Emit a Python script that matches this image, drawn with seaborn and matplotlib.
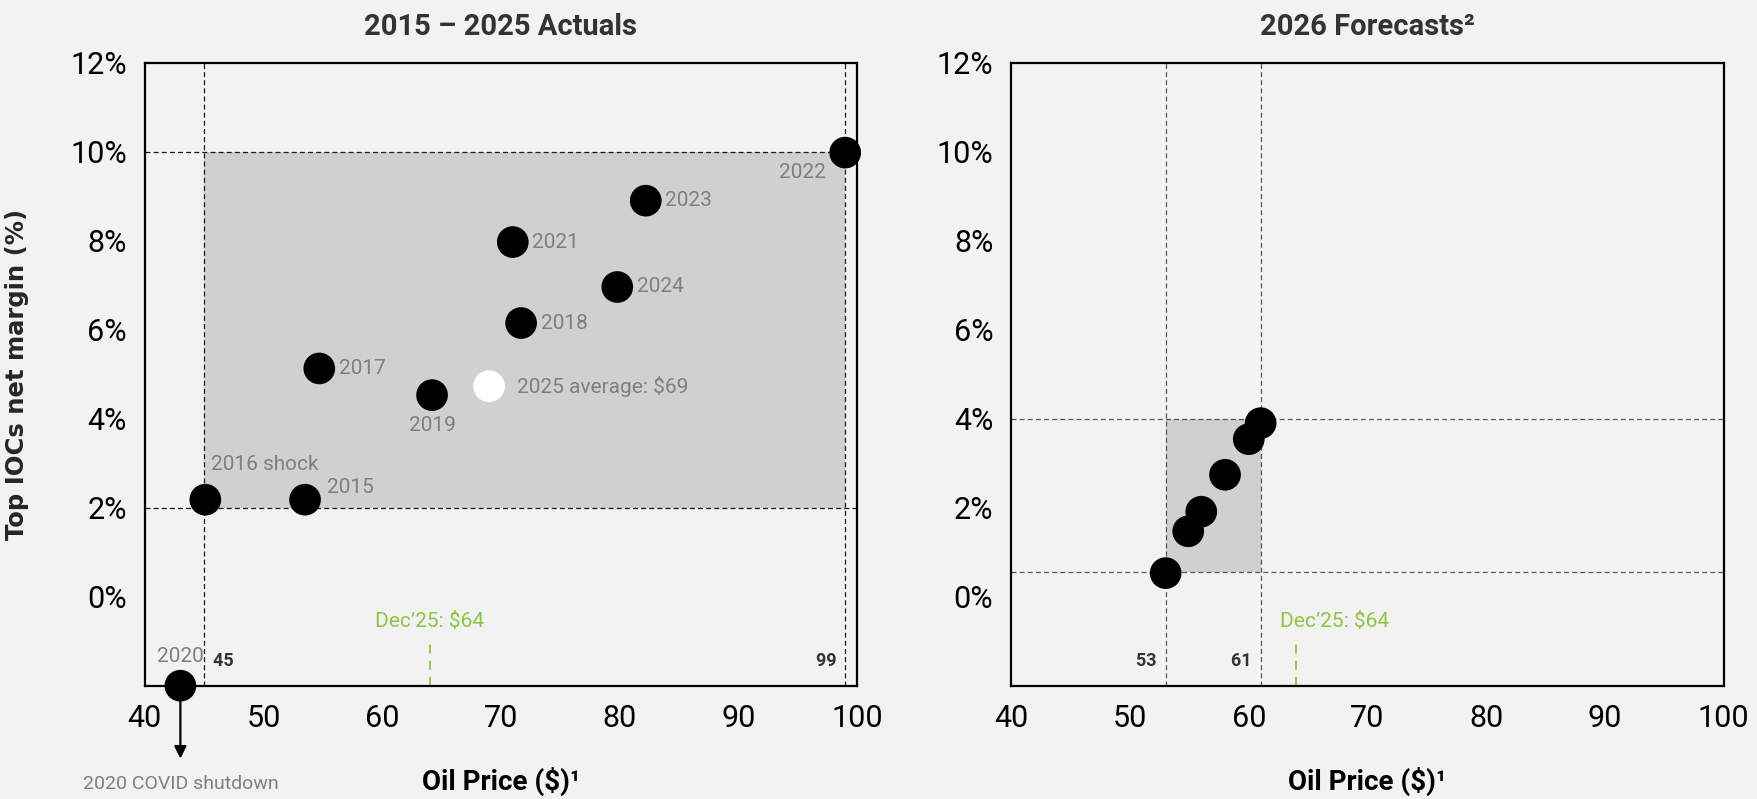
import matplotlib
matplotlib.use('Agg')
import matplotlib.pyplot as plt
import seaborn as sns
import pandas as pd

# Data
actual_labels = ['2015', '2016 shock', '2017', '2018', '2019', '2020', '2021', '2022', '2023', '2024']
actual_price = [53.5, 45.1, 54.7, 71.7, 64.2, 43.0, 71.0, 99.0, 82.2, 79.8]
actual_margin = [2.18, 2.18, 5.13, 6.15, 4.53, -2.0, 7.97, 9.98, 8.9, 6.96]

avg_label = '2025 average: $69'
avg_price = [69.0]
avg_margin = [4.73]

forecast_price = [53.0, 54.9, 56.0, 58.0, 60.0, 61.0]
forecast_margin = [0.53, 1.47, 1.91, 2.74, 3.54, 3.9]

actual_range_price = [45, 99]
actual_range_margin = [2, 10]
forecast_range_price = [53, 61]
forecast_range_margin = [0.55, 4.0]

dec25_price = 64
x_ticks = [40, 50, 60, 70, 80, 90, 100]
y_ticks = [0, 2, 4, 6, 8, 10, 12]

# label offsets in points (dx, dy, ha)
label_pos = {
    '2015': (16, 9, 'left'), '2016 shock': (4, 25, 'left'), '2017': (14, 0, 'left'),
    '2018': (14, 0, 'left'), '2019': (0, -22, 'center'), '2020': (0, 21, 'center'),
    '2021': (14, 0, 'left'), '2022': (-14, -14, 'right'), '2023': (14, 0, 'left'),
    '2024': (14, 0, 'left'),
}

BG = '#f2f2f2'
SHADE = '#d0d0ce'
GREY_TXT = '#7f7f7f'
GREEN = '#8dc63f'

sns.set_theme(style='white')
plt.rcParams['font.family'] = ['Roboto', 'DejaVu Sans']

actual = pd.DataFrame({'label': actual_labels, 'price': actual_price, 'margin': actual_margin})
forecast = pd.DataFrame({'price': forecast_price, 'margin': forecast_margin})

fig = plt.figure(figsize=(17.57, 7.99), dpi=100, facecolor=BG)
ax1 = fig.add_axes([0.0824, 0.1418, 0.4054, 0.7797], facecolor=BG)
ax2 = fig.add_axes([0.5756, 0.1418, 0.4054, 0.7797], facecolor=BG)


def style_axes(ax, title):
    ax.set_xlim(40, 100)
    ax.set_ylim(-2, 12)
    ax.set_xticks(x_ticks)
    ax.set_xticklabels([str(t) for t in x_ticks])
    ax.set_yticks(y_ticks)
    ax.set_yticklabels([f'{t}%' for t in y_ticks])
    ax.tick_params(length=0, labelsize=22, pad=13, colors='black')
    for s in ax.spines.values():
        s.set_visible(True)
        s.set_color('black')
        s.set_linewidth(1.6)
        s.set_zorder(6)
    ax.set_title(title, fontsize=21, fontweight='bold', color='#333333', pad=20)
    ax.set_xlabel('Oil Price ($)¹', fontsize=20, fontweight='bold', color='black', va='center')
    ax.xaxis.set_label_coords(0.5, -0.153)
    ax.set_ylabel('')


def draw_range(ax, xr, yr, line_color):
    ax.axvspan(xr[0], xr[1], ymin=(yr[0] + 2) / 14, ymax=(yr[1] + 2) / 14,
               color=SHADE, lw=0, zorder=0)
    for x in xr:
        ax.axvline(x, color=line_color, lw=0.9, ls=(0, (4, 2.5)), zorder=1)
    for y in yr:
        ax.axhline(y, color=line_color, lw=0.9, ls=(0, (4, 2.5)), zorder=1)


def draw_dec25(ax, dx, ha):
    ax.plot([dec25_price, dec25_price], [-2, -0.95], color=GREEN, lw=1.3,
            ls=(0, (5, 4)), zorder=2)
    ax.annotate('Dec\u201925: $64', (dec25_price, -0.56), xytext=(dx, 0),
                textcoords='offset points', color=GREEN, fontsize=15, ha=ha, va='center')


# ---- Left panel: actuals
draw_range(ax1, actual_range_price, actual_range_margin, '#1a1a1a')
sns.scatterplot(data=actual, x='price', y='margin', ax=ax1, s=520, color='black',
                edgecolor='none', zorder=5, clip_on=False, legend=False)
sns.scatterplot(x=avg_price, y=avg_margin, ax=ax1, s=520, color='white',
                edgecolor='none', zorder=5, legend=False)
for _, r in actual.iterrows():
    dx, dy, ha = label_pos[r['label']]
    ax1.annotate(r['label'], (r['price'], r['margin']), xytext=(dx, dy),
                 textcoords='offset points', ha=ha, va='center', fontsize=15,
                 color=GREY_TXT, annotation_clip=False)
ax1.annotate(avg_label, (avg_price[0], avg_margin[0]), xytext=(20, 0),
             textcoords='offset points', ha='left', va='center', fontsize=15, color=GREY_TXT)

ax1.text(actual_range_price[0], -1.44, '  ' + str(actual_range_price[0]), fontsize=13,
         fontweight='bold', color='#333333', ha='left', va='center')
ax1.text(actual_range_price[1], -1.44, str(actual_range_price[1]) + '  ', fontsize=13,
         fontweight='bold', color='#333333', ha='right', va='center')
draw_dec25(ax1, 0, 'center')

# 2020 off the scale
covid = actual[actual['label'] == '2020'].iloc[0]
ax1.annotate('', xy=(covid['price'], -3.7), xytext=(covid['price'], covid['margin']),
             arrowprops=dict(arrowstyle='-|>', color='black', lw=1.6, mutation_scale=18),
             annotation_clip=False)
ax1.text(covid['price'], -4.2, '2020 COVID shutdown', fontsize=14, color=GREY_TXT,
         ha='center', va='center', clip_on=False)

style_axes(ax1, '2015 \u2013 2025 Actuals')
ax1.set_ylabel('Top IOCs net margin (%)', fontsize=17.5, fontweight='bold',
               family='DejaVu Sans', va='center')
ax1.yaxis.set_label_coords(-0.18, 0.5)

# ---- Right panel: forecasts
draw_range(ax2, forecast_range_price, forecast_range_margin, '#555555')
sns.scatterplot(data=forecast, x='price', y='margin', ax=ax2, s=520, color='black',
                edgecolor='none', zorder=5, legend=False)
for p in forecast_range_price:
    ax2.text(p, -1.44, str(p) + '  ', fontsize=13, fontweight='bold', color='#333333',
             ha='right', va='center')
draw_dec25(ax2, -12, 'left')
style_axes(ax2, '2026 Forecasts²')

fig.savefig('out.png', dpi=100, facecolor=BG)
